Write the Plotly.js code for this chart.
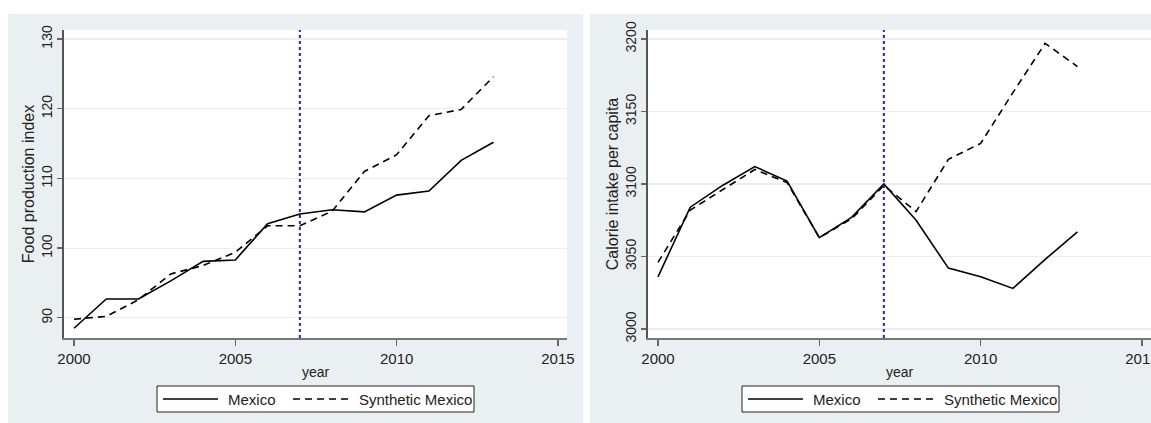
<!DOCTYPE html>
<html>
<head>
<meta charset="utf-8">
<script src="https://cdn.plot.ly/plotly-3.0.1.min.js"></script>
<style>
  html, body { margin: 0; padding: 0; background: #ffffff; }
  #chart { width: 1151px; height: 423px; }
</style>
</head>
<body>
<div id="chart"></div>
<script>
// ---- data ----
const years = [2000, 2001, 2002, 2003, 2004, 2005, 2006, 2007, 2008, 2009, 2010, 2011, 2012, 2013];
const foodMexico = [88.5, 92.7, 92.7, 95.3, 98.1, 98.3, 103.5, 104.9, 105.5, 105.2, 107.6, 108.2, 112.6, 115.2];
const foodSynthetic = [89.8, 90.2, 92.6, 96.3, 97.5, 99.4, 103.2, 103.2, 105.3, 111.0, 113.4, 119.0, 119.9, 124.6];
const calMexico = [3036, 3084, 3099, 3112, 3102, 3063, 3077, 3100, 3075, 3042, 3036, 3028, 3048, 3067];
const calSynthetic = [3046, 3082, 3096, 3110, 3101, 3063, 3076, 3099, 3081, 3117, 3128, 3163, 3197, 3181];
const treatmentYear = 2007;
const seriesNames = ["Mexico", "Synthetic Mexico"];
const xTicks = [2000, 2005, 2010, 2015];
const foodTicks = [90, 100, 110, 120, 130];
const calTicks = [3000, 3050, 3100, 3150, 3200];
const xTitle = "year";
const foodTitle = "Food production index";
const calTitle = "Calorie intake per capita";

// ---- layout helpers ----
const W = 1151, H = 423;
const px = v => v / W;
const py = v => (H - v) / H;
const FONT = "Liberation Sans, Arial, sans-serif";
const BG = "#eaf0f2";
const DASH = "7px,5px";
const STYLES = [
  { color: "#000000", width: 1.6, dash: "solid" },
  { color: "#000000", width: 1.6, dash: DASH }
];

function line(x, y, i, xa, ya) {
  return {
    x: x, y: y, name: seriesNames[i], type: "scatter", mode: "lines",
    xaxis: xa, yaxis: ya, showlegend: false,
    line: STYLES[i],
    hoverinfo: "skip"
  };
}

const data = [
  line(years, foodMexico, 0, "x", "y"),
  line(years, foodSynthetic, 1, "x", "y"),
  line(years, calMexico, 0, "x2", "y2"),
  line(years, calSynthetic, 1, "x2", "y2")
];

function xaxis(domain, anchor) {
  return {
    domain: domain, anchor: anchor, range: [1999.69, 2015.28],
    tickmode: "array", tickvals: xTicks, ticktext: xTicks.map(String),
    ticks: "outside", ticklen: 6, tickwidth: 1.3, tickcolor: "#666",
    ticklabeloverflow: "allow",
    showline: true, linecolor: "#777", linewidth: 1.6,
    showgrid: false, zeroline: false,
    tickfont: { family: FONT, size: 15, color: "#222" },
    title: { text: xTitle, font: { family: FONT, size: 14, color: "#222" }, standoff: 1 },
    automargin: false, fixedrange: true
  };
}
function yaxis(domain, anchor, range, ticks, title) {
  return {
    domain: domain, anchor: anchor, range: range,
    tickmode: "array", tickvals: ticks, ticktext: ticks.map(String),
    ticks: "outside", ticklen: 5, tickwidth: 1.3, tickcolor: "#666",
    tickangle: -90,
    showline: true, linecolor: "#555", linewidth: 1.6,
    showgrid: true, gridcolor: "#ececec", gridwidth: 1.2,
    zeroline: false,
    tickfont: { family: FONT, size: 14, color: "#222" },
    title: { text: title, font: { family: FONT, size: 16, color: "#222" }, standoff: 0 },
    automargin: false, fixedrange: true
  };
}

const yDom = [py(338), py(30)];

function vline(xref) {
  return {
    type: "line", xref: xref, yref: (xref === "x" ? "y" : "y2") + " domain",
    x0: treatmentYear, x1: treatmentYear, y0: 0, y1: 1,
    line: { color: "#2a22c0", width: 2, dash: "dot" }, layer: "above"
  };
}

// ---- legend boxes (one per panel), drawn with shapes + text annotations ----
const shapes = [
  { type: "rect", xref: "paper", yref: "paper", x0: px(8), x1: px(583), y0: 0, y1: py(14),
    fillcolor: BG, line: { width: 0 }, layer: "below" },
  { type: "rect", xref: "paper", yref: "paper", x0: px(590), x1: 1, y0: 0, y1: py(14),
    fillcolor: BG, line: { width: 0 }, layer: "below" },
  { type: "rect", xref: "paper", yref: "paper", x0: px(64), x1: px(567), y0: py(338), y1: py(30),
    fillcolor: "#ffffff", line: { width: 0 }, layer: "below" },
  { type: "rect", xref: "paper", yref: "paper", x0: px(648), x1: 1, y0: py(338), y1: py(30),
    fillcolor: "#ffffff", line: { width: 0 }, layer: "below" },
  vline("x"),
  vline("x2")
];
const annotations = [];
const legendOffsets = [0, 585];
const sampleStarts = [163, 293];
const textStarts = [226, 357];
legendOffsets.forEach(off => {
  shapes.push({ type: "rect", xref: "paper", yref: "paper",
    x0: px(157 + off), x1: px(474 + off), y0: py(412), y1: py(386),
    fillcolor: "#ffffff", line: { color: "#222", width: 1 }, layer: "above" });
  seriesNames.forEach((name, i) => {
    shapes.push({ type: "line", xref: "paper", yref: "paper",
      x0: px(sampleStarts[i] + off), x1: px(sampleStarts[i] + 55 + off), y0: py(399), y1: py(399),
      line: STYLES[i], layer: "above" });
    annotations.push({ xref: "paper", yref: "paper", x: px(textStarts[i] + off), y: py(399.5),
      xanchor: "left", yanchor: "middle", showarrow: false, text: name,
      font: { family: FONT, size: 15, color: "#222" } });
  });
});

const layout = {
  width: W, height: H,
  margin: { l: 0, r: 0, t: 0, b: 0, pad: 0 },
  paper_bgcolor: "#ffffff",
  plot_bgcolor: "#ffffff",
  showlegend: false,
  xaxis: xaxis([px(64), px(567)], "y"),
  yaxis: yaxis(yDom, "x", [87.1, 131.3], foodTicks, foodTitle),
  xaxis2: xaxis([px(648), 1], "y2"),
  yaxis2: yaxis(yDom, "x2", [2993.8, 3206.2], calTicks, calTitle),
  shapes: shapes,
  annotations: annotations
};

Plotly.newPlot("chart", data, layout, { displayModeBar: false, staticPlot: true });
</script>
</body>
</html>
